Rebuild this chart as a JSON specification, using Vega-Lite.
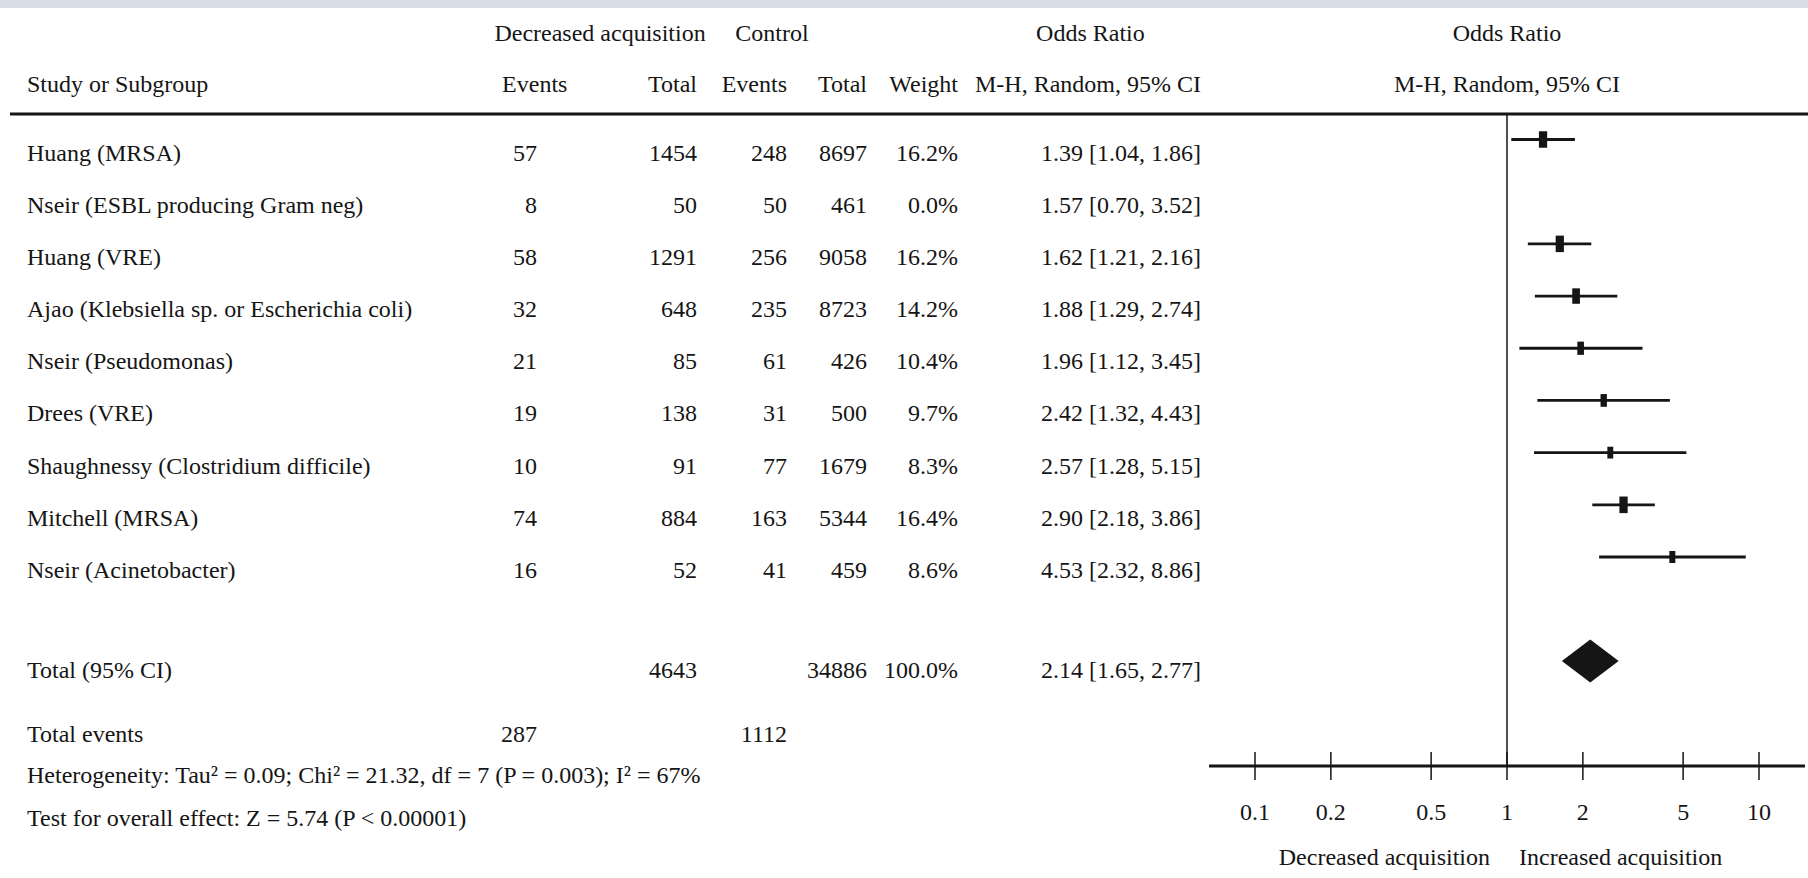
{
  "$schema": "https://vega.github.io/schema/vega-lite/v6.json",
  "width": 1808,
  "height": 870,
  "autosize": "none",
  "padding": {"top": 8, "left": 0, "right": 0, "bottom": 0},
  "background": "#d6dde6",
  "config": {
    "view": {"fill": "white", "stroke": null},
    "axis": {"disable": true},
    "legend": {"disable": true},
    "text": {"font": "Liberation Serif", "fontSize": 24, "color": "#151515", "baseline": "alphabetic"}
  },
  "datasets": {
    "rows": [
      {"line": 1, "label": "Huang (MRSA)", "e1": "57", "t1": "1454", "e2": "248", "t2": "8697", "wt": "16.2%", "ortext": "1.39 [1.04, 1.86]", "or": 1.39, "lo": 1.04, "hi": 1.86, "w": 16.2},
      {"line": 2, "label": "Nseir (ESBL producing Gram neg)", "e1": "8", "t1": "50", "e2": "50", "t2": "461", "wt": "0.0%", "ortext": "1.57 [0.70, 3.52]", "or": 1.57, "lo": 0.70, "hi": 3.52, "w": 0},
      {"line": 3, "label": "Huang (VRE)", "e1": "58", "t1": "1291", "e2": "256", "t2": "9058", "wt": "16.2%", "ortext": "1.62 [1.21, 2.16]", "or": 1.62, "lo": 1.21, "hi": 2.16, "w": 16.2},
      {"line": 4, "label": "Ajao (Klebsiella sp. or Escherichia coli)", "e1": "32", "t1": "648", "e2": "235", "t2": "8723", "wt": "14.2%", "ortext": "1.88 [1.29, 2.74]", "or": 1.88, "lo": 1.29, "hi": 2.74, "w": 14.2},
      {"line": 5, "label": "Nseir (Pseudomonas)", "e1": "21", "t1": "85", "e2": "61", "t2": "426", "wt": "10.4%", "ortext": "1.96 [1.12, 3.45]", "or": 1.96, "lo": 1.12, "hi": 3.45, "w": 10.4},
      {"line": 6, "label": "Drees (VRE)", "e1": "19", "t1": "138", "e2": "31", "t2": "500", "wt": "9.7%", "ortext": "2.42 [1.32, 4.43]", "or": 2.42, "lo": 1.32, "hi": 4.43, "w": 9.7},
      {"line": 7, "label": "Shaughnessy (Clostridium difficile)", "e1": "10", "t1": "91", "e2": "77", "t2": "1679", "wt": "8.3%", "ortext": "2.57 [1.28, 5.15]", "or": 2.57, "lo": 1.28, "hi": 5.15, "w": 8.3},
      {"line": 8, "label": "Mitchell (MRSA)", "e1": "74", "t1": "884", "e2": "163", "t2": "5344", "wt": "16.4%", "ortext": "2.90 [2.18, 3.86]", "or": 2.90, "lo": 2.18, "hi": 3.86, "w": 16.4},
      {"line": 9, "label": "Nseir (Acinetobacter)", "e1": "16", "t1": "52", "e2": "41", "t2": "459", "wt": "8.6%", "ortext": "4.53 [2.32, 8.86]", "or": 4.53, "lo": 2.32, "hi": 8.86, "w": 8.6},
      {"line": 10, "label": "Total (95% CI)", "t1": "4643", "t2": "34886", "wt": "100.0%", "ortext": "2.14 [1.65, 2.77]", "or": 2.14, "lo": 1.65, "hi": 2.77, "kind": "total"},
      {"line": 11, "label": "Total events", "e1": "287", "e2": "1112"},
      {"line": 12, "label": "Heterogeneity: Tau² = 0.09; Chi² = 21.32, df = 7 (P = 0.003); I² = 67%"},
      {"line": 13, "label": "Test for overall effect: Z = 5.74 (P < 0.00001)"}
    ],
    "ticks": [
      {"v": 0.1, "lab": "0.1"}, {"v": 0.2, "lab": "0.2"}, {"v": 0.5, "lab": "0.5"},
      {"v": 1, "lab": "1"}, {"v": 2, "lab": "2"}, {"v": 5, "lab": "5"}, {"v": 10, "lab": "10"}
    ],
    "colheads": [
      {"t": "Total", "col": 3}, {"t": "Events", "col": 4}, {"t": "Total", "col": 5},
      {"t": "Weight", "col": 6}, {"t": "M-H, Random, 95% CI", "col": 7}
    ]
  },
  "resolve": {"scale": {"x": "independent"}},
  "layer": [
    {
      "data": {"name": "rows"},
      "layer": [
        {
          "mark": {"type": "text", "align": "left"},
          "encoding": {
            "x": {"datum": 1, "type": "quantitative", "scale": {"domain": [0, 1, 2, 3, 4, 5, 6, 7, 8], "range": [10, 27, 537, 697, 787, 867, 958, 1201, 1808], "zero": false, "nice": false}},
            "y": {"field": "line", "type": "quantitative", "scale": {"domain": [-2, -1, 0, 1, 9, 10, 11, 12, 13, 14, 15, 16], "range": [33, 84, 106, 152.5, 570, 670, 734, 775, 818, 758, 812, 857], "zero": false, "nice": false}},
            "text": {"field": "label"}
          }
        },
        {
          "transform": [{"filter": "isValid(datum.e1)"}],
          "mark": {"type": "text", "align": "right"},
          "encoding": {"x": {"datum": 2}, "y": {"field": "line", "type": "quantitative"}, "text": {"field": "e1"}}
        },
        {
          "transform": [{"filter": "isValid(datum.t1)"}],
          "mark": {"type": "text", "align": "right"},
          "encoding": {"x": {"datum": 3}, "y": {"field": "line", "type": "quantitative"}, "text": {"field": "t1"}}
        },
        {
          "transform": [{"filter": "isValid(datum.e2)"}],
          "mark": {"type": "text", "align": "right"},
          "encoding": {"x": {"datum": 4}, "y": {"field": "line", "type": "quantitative"}, "text": {"field": "e2"}}
        },
        {
          "transform": [{"filter": "isValid(datum.t2)"}],
          "mark": {"type": "text", "align": "right"},
          "encoding": {"x": {"datum": 5}, "y": {"field": "line", "type": "quantitative"}, "text": {"field": "t2"}}
        },
        {
          "transform": [{"filter": "isValid(datum.wt)"}],
          "mark": {"type": "text", "align": "right"},
          "encoding": {"x": {"datum": 6}, "y": {"field": "line", "type": "quantitative"}, "text": {"field": "wt"}}
        },
        {
          "transform": [{"filter": "isValid(datum.ortext)"}],
          "mark": {"type": "text", "align": "right"},
          "encoding": {"x": {"datum": 7}, "y": {"field": "line", "type": "quantitative"}, "text": {"field": "ortext"}}
        },
        {
          "data": {"name": "colheads"},
          "mark": {"type": "text", "align": "right"},
          "encoding": {"x": {"field": "col", "type": "quantitative"}, "y": {"datum": -1}, "text": {"field": "t"}}
        },
        {
          "data": {"values": [{"t": "Events"}]},
          "mark": {"type": "text", "align": "right"},
          "encoding": {"x": {"datum": 2.19}, "y": {"datum": -1}, "text": {"field": "t"}}
        },
        {
          "data": {"values": [{"t": "Study or Subgroup"}]},
          "mark": {"type": "text", "align": "left"},
          "encoding": {"x": {"datum": 1}, "y": {"datum": -1}, "text": {"field": "t"}}
        },
        {
          "data": {"values": [{"t": "Decreased acquisition"}]},
          "mark": {"type": "text", "align": "center"},
          "encoding": {"x": {"datum": 2.394}, "y": {"datum": -2}, "text": {"field": "t"}}
        },
        {
          "data": {"values": [{"t": "Control"}]},
          "mark": {"type": "text", "align": "center"},
          "encoding": {"x": {"datum": 3.833}, "y": {"datum": -2}, "text": {"field": "t"}}
        },
        {
          "data": {"values": [{"t": "Odds Ratio"}]},
          "mark": {"type": "text", "align": "center"},
          "encoding": {"x": {"datum": 6.545}, "y": {"datum": -2}, "text": {"field": "t"}}
        },
        {
          "data": {"values": [{}]},
          "mark": {"type": "rule", "strokeWidth": 3, "color": "#151515"},
          "encoding": {"x": {"datum": 0}, "x2": {"datum": 8}, "y": {"datum": 0}}
        }
      ]
    },
    {
      "layer": [
        {
          "data": {"name": "rows"},
          "transform": [{"filter": "datum.w > 0"}],
          "mark": {"type": "rule", "strokeWidth": 2.8, "color": "#151515", "yOffset": -21},
          "encoding": {
            "x": {"field": "lo", "type": "quantitative", "scale": {"type": "log", "domain": [0.1, 10], "range": [1255, 1759], "nice": false}},
            "x2": {"field": "hi"},
            "y": {"field": "line", "type": "quantitative"}
          }
        },
        {
          "data": {"name": "rows"},
          "transform": [{"filter": "datum.w > 0"}],
          "mark": {"type": "point", "shape": "M-0.5,-1L0.5,-1L0.5,1L-0.5,1Z", "filled": true, "opacity": 1, "color": "#151515", "yOffset": -21},
          "encoding": {
            "x": {"field": "or", "type": "quantitative"},
            "y": {"field": "line", "type": "quantitative"},
            "size": {"field": "w", "type": "quantitative", "scale": {"domain": [0, 16.4], "range": [0, 275]}, "legend": null}
          }
        },
        {
          "data": {"name": "rows"},
          "transform": [{"filter": "datum.kind == 'total'"}],
          "mark": {"type": "point", "shape": "M-1,0L0,-0.76L1,0L0,0.76Z", "filled": true, "opacity": 1, "color": "#151515", "size": 3226, "yOffset": -17},
          "encoding": {"x": {"field": "or", "type": "quantitative"}, "y": {"field": "line", "type": "quantitative"}}
        },
        {
          "data": {"values": [{}]},
          "mark": {"type": "rule", "strokeWidth": 1.5, "color": "#151515"},
          "encoding": {"x": {"datum": 1}, "y": {"datum": 0}, "y2": {"datum": 14}}
        },
        {
          "data": {"values": [{}]},
          "mark": {"type": "rule", "strokeWidth": 3, "color": "#151515"},
          "encoding": {"x": {"datum": 0.0657}, "x2": {"datum": 15.22}, "y": {"datum": 14}}
        },
        {
          "data": {"name": "ticks"},
          "mark": {"type": "rule", "strokeWidth": 1.5, "color": "#151515", "yOffset": -14, "y2Offset": 14},
          "encoding": {"x": {"field": "v", "type": "quantitative"}, "y": {"datum": 14}, "y2": {"datum": 14}}
        },
        {
          "data": {"name": "ticks"},
          "mark": {"type": "text", "align": "center"},
          "encoding": {"x": {"field": "v", "type": "quantitative"}, "y": {"datum": 15}, "text": {"field": "lab"}}
        },
        {
          "data": {"values": [{"t": "Odds Ratio", "line": -2}, {"t": "M-H, Random, 95% CI", "line": -1}]},
          "mark": {"type": "text", "align": "center"},
          "encoding": {"x": {"datum": 1}, "y": {"field": "line", "type": "quantitative"}, "text": {"field": "t"}}
        },
        {
          "data": {"values": [{"t": "Decreased acquisition"}]},
          "mark": {"type": "text", "align": "right", "dx": -17},
          "encoding": {"x": {"datum": 1}, "y": {"datum": 16}, "text": {"field": "t"}}
        },
        {
          "data": {"values": [{"t": "Increased acquisition"}]},
          "mark": {"type": "text", "align": "left", "dx": 12},
          "encoding": {"x": {"datum": 1}, "y": {"datum": 16}, "text": {"field": "t"}}
        }
      ]
    }
  ]
}
